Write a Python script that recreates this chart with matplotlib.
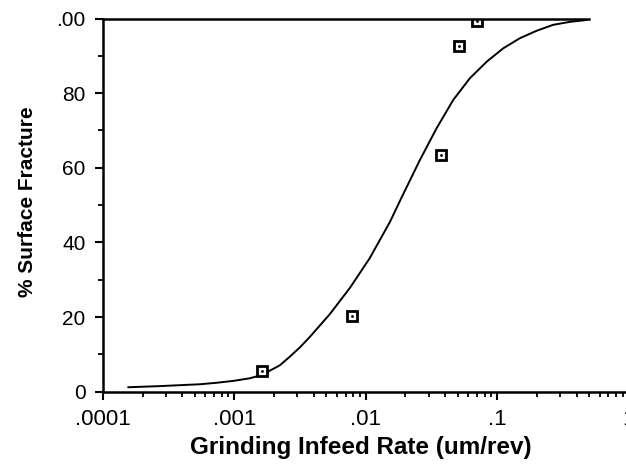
import matplotlib
matplotlib.use("Agg")
import matplotlib.pyplot as plt
from matplotlib.ticker import FixedLocator, LogLocator, NullFormatter

plt.rcParams['font.family'] = ['Liberation Sans', 'DejaVu Sans']

# measured points (infeed rate um/rev, % surface fracture)
rate = [0.001625, 0.00784, 0.0372, 0.0509, 0.0701]
fracture = [5.6, 20.3, 63.4, 92.7, 99.3]

# fitted curve
curve_rate = [0.000156, 0.000271, 0.000547, 0.000733, 0.00098, 0.00131, 0.00162,
              0.00222, 0.00264, 0.00315, 0.00375, 0.00532, 0.00755, 0.0107,
              0.01524, 0.01866, 0.02576, 0.0345, 0.0462, 0.0618, 0.0828, 0.1107,
              0.148, 0.1985, 0.2655, 0.3555, 0.476]
curve_frac = [1.2, 1.5, 2.0, 2.4, 2.9, 3.6, 4.5, 7.1, 9.4, 11.9, 14.7, 20.8, 27.8,
              35.8, 45.5, 52.0, 62.1, 70.6, 78.2, 84.0, 88.4, 92.0, 94.7, 96.7,
              98.3, 99.1, 99.6]

xticks = [0.0001, 0.001, 0.01, 0.1, 1]
xticklabels = [".0001", ".001", ".01", ".1", "1"]
yticks = [0, 20, 40, 60, 80, 100]
yticklabels = ["0", "20", "40", "60", "80", ".00"]

fig = plt.figure(figsize=(6.26, 4.65), dpi=100)
ax = fig.add_axes([0.1645, 0.1576, 1.05, 0.8026])

ax.plot(curve_rate, curve_frac, color='black', lw=1.4, solid_joinstyle='round')
ax.plot(rate, fracture, 's', ms=7.5, mfc='white', mec='black', mew=2)
ax.plot(rate, fracture, '.', ms=2, color='black')

ax.set_xscale('log')
ax.set_xlim(1e-4, 10)
ax.set_ylim(0, 100)

ax.xaxis.set_major_locator(FixedLocator(xticks))
ax.set_xticklabels(xticklabels)
ax.xaxis.set_minor_locator(LogLocator(base=10, subs=range(2, 10)))
ax.xaxis.set_minor_formatter(NullFormatter())
ax.set_yticks(yticks)
ax.set_yticklabels(yticklabels)
ax.yaxis.set_minor_locator(FixedLocator([10, 30, 50, 70, 90]))

ax.tick_params(which='major', direction='out', length=5.5, width=1.5)
ax.tick_params(which='minor', direction='out', length=3.5, width=1.3)
ax.tick_params(axis='x', which='major', labelsize=16, pad=7)
ax.tick_params(axis='y', which='major', labelsize=15, pad=7)

ax.spines['right'].set_visible(False)
ax.spines['top'].set_bounds(1e-4, 0.5)
for s in ['left', 'bottom', 'top']:
    ax.spines[s].set_linewidth(1.8)

ax.set_xlabel("Grinding Infeed Rate (um/rev)", fontsize=17.5, fontweight='bold')
ax.set_ylabel("% Surface Fracture", fontsize=15, fontweight='bold')
ax.xaxis.set_label_coords(0.392, -0.118)
ax.yaxis.set_label_coords(-0.1005, 0.509)

fig.savefig("out.png", dpi=100)
